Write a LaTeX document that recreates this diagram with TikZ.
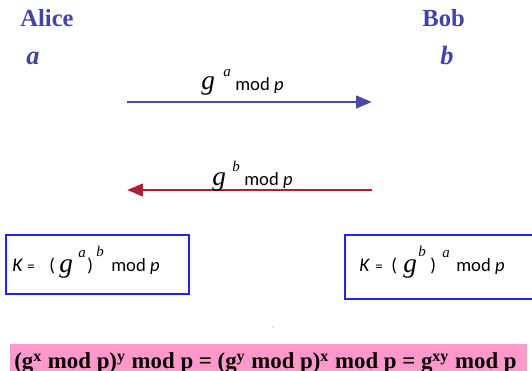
\documentclass[tikz,border=0pt]{standalone}
\usepackage{fontspec}
\setmainfont{Liberation Serif}
\setsansfont{Carlito}
\usepackage{tikz}
\usetikzlibrary{arrows.meta,positioning}
\definecolor{party}{HTML}{4343A6}
\definecolor{sendblue}{HTML}{4848A8}
\definecolor{sendred}{HTML}{B01E32}
\definecolor{keyframe}{HTML}{2424E0}
\definecolor{resultbg}{HTML}{FF99CC}
\newcommand{\modp}{mod \textit{p}}

\begin{document}
\begin{tikzpicture}[x=0.02cm,y=-0.02cm,
  every node/.style={inner sep=0pt,anchor=base west},
  party/.style={text=party,font=\fontsize{14}{15}\selectfont\bfseries},
  secret/.style={text=party,font=\fontsize{15}{15}\selectfont\bfseries\itshape},
  gen/.style={font=\fontsize{15.5}{16}\selectfont\itshape},
  expo/.style={font=\fontsize{8.5}{9}\selectfont\itshape},
  tok/.style={font=\fontsize{10.6}{11}\selectfont\sffamily},
  eqs/.style={font=\fontsize{8.5}{9}\selectfont\sffamily},
  keybox/.style={draw=keyframe,line width=1.1pt}]
\useasboundingbox (0,0) rectangle (532,371);
\node[party] (alice) at (20,27) {Alice};
\node[party] (bob) at (422,27) {Bob};
\node[secret] (a) at (26,65) {a};
\node[secret] (b) at (440,65) {b};
% messages
\coordinate (l1) at (127,102);
\coordinate (r1) at (372,102);
\coordinate (l2) at (127,190);
\coordinate (r2) at (372,190);
\draw[sendblue,line width=1.7pt,-{Triangle[length=9pt,width=7pt]}] (l1) -- (r1);
\draw[sendred,line width=1.7pt,-{Triangle[length=9pt,width=7pt]}] (r2) -- (l2);
\node[gen] (m1g) at (201,90) {g};
\node[expo] (m1e) at (223,77) {a};
\node[tok] (m1m) at (235,91) {\modp};
\node[gen] (m2g) at (212,186) {g};
\node[expo] (m2e) at (232,172) {b};
\node[tok] (m2m) at (244,186) {\modp};
% keys
\draw[keybox] (6,235) rectangle (189,294);
\node[tok,font=\fontsize{11}{11}\selectfont\sffamily\itshape] (kaK) at (12,272) {K};
\node[eqs] (kaeq) at (27,272) {=};
\node[tok] (kaop) at (49,272) {(};
\node[gen] (kag) at (59,273) {g};
\node[expo] (kae1) at (78,258) {a};
\node[tok] (kacl) at (87,272) {)};
\node[expo] (kae2) at (96,257) {b};
\node[tok] (kam) at (111,272) {\modp};
\draw[keybox] (345,235) rectangle (540,299);
\node[tok,font=\fontsize{11}{11}\selectfont\sffamily\itshape] (kbK) at (359,272) {K};
\node[eqs] (kbeq) at (375,272) {=};
\node[tok] (kbop) at (391,272) {(};
\node[gen] (kbg) at (403,273) {g};
\node[expo] (kbe1) at (418,257) {b};
\node[tok] (kbcl) at (430,272) {)};
\node[expo] (kbe2) at (442,258) {a};
\node[tok] (kbm) at (456,272) {\modp};
\fill[gray] (273,327) circle (0.6);
% result
\fill[resultbg] (10,344) rectangle (527,375);
\node[font=\fontsize{13}{14}\selectfont\bfseries] (res) at (14,369)
  {(g\textsuperscript{x} mod p)\textsuperscript{y} mod p = (g\textsuperscript{y} mod p)\textsuperscript{x} mod p = g\textsuperscript{xy} mod p};
\end{tikzpicture}
\end{document}
